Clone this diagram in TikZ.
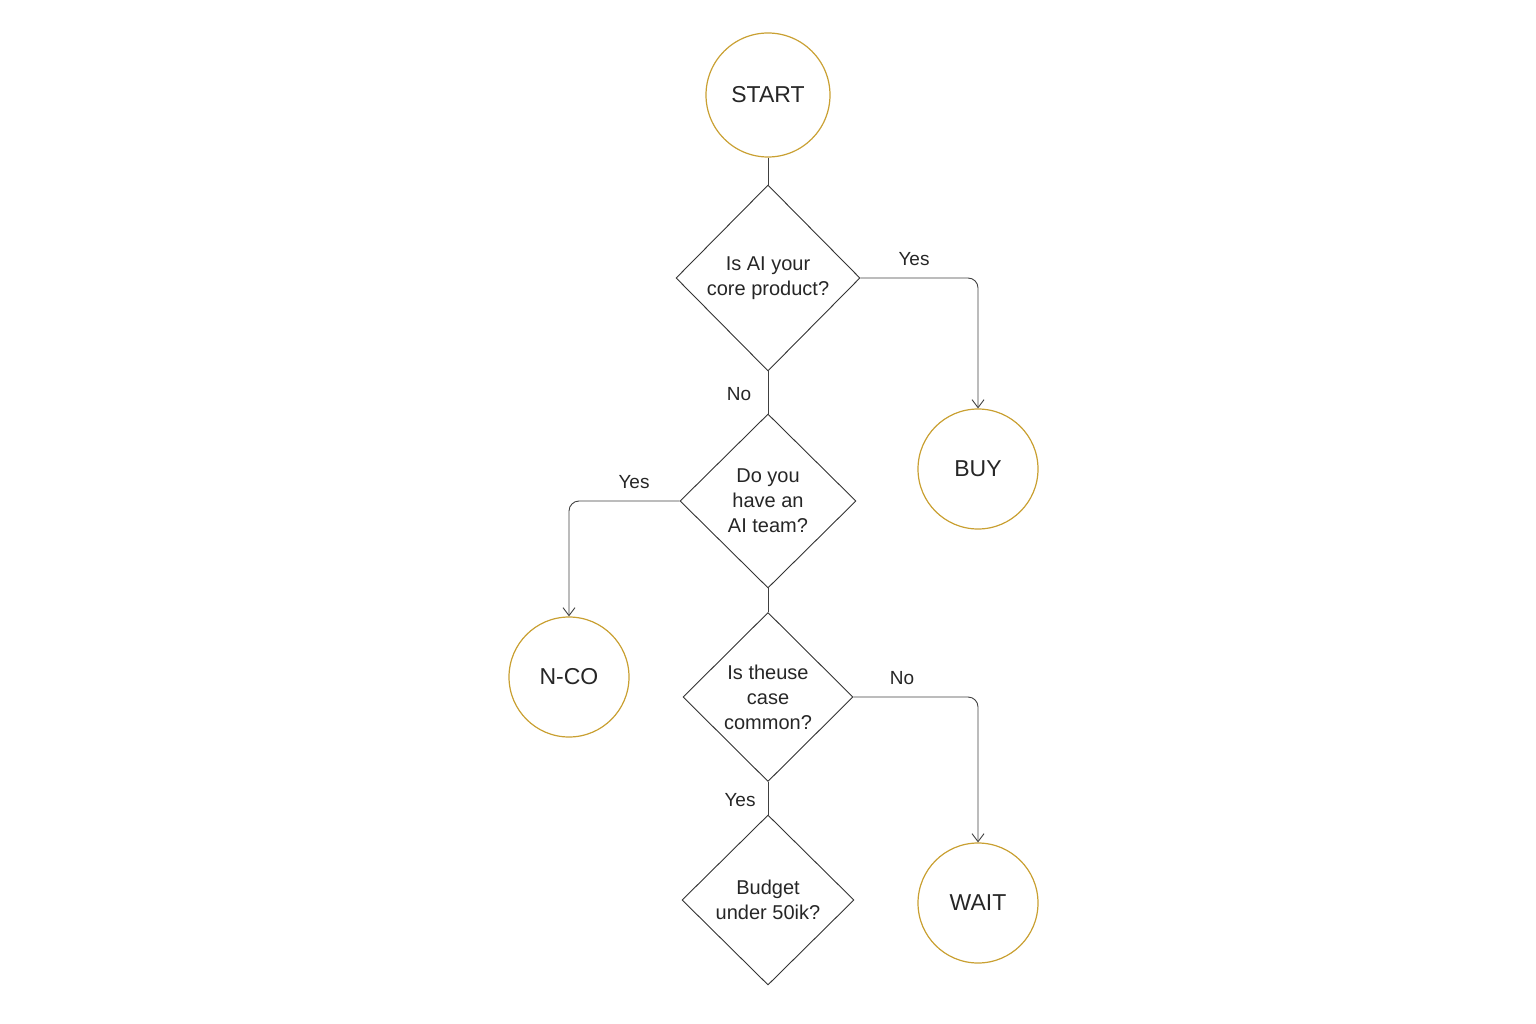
\documentclass[tikz,border=0pt]{standalone}
\usepackage{fontspec}
\setmainfont{Liberation Sans}
\usetikzlibrary{shapes.geometric,arrows.meta}
\definecolor{gold}{HTML}{C9A032}
\begin{document}
\begin{tikzpicture}[x=1pt,y=-1pt,
  term/.style={circle,draw=gold,line width=1.2pt,inner sep=0pt,font=\fontsize{23}{26}\selectfont,text=black!85},
  dec/.style={diamond,draw=black!80,line width=0.9pt,inner sep=0pt,align=center,font=\fontsize{20}{25}\selectfont,text=black!85},
  lbl/.style={font=\fontsize{19}{22}\selectfont,text=black!85},
  conn/.style={draw=black!75,line width=0.9pt,rounded corners=10pt},
  arr/.style={conn,-{Straight Barb[length=8pt,width=12pt]}}]
\useasboundingbox (0,0) rectangle (1536,1024);
\node[term,minimum size=124pt] (start) at (768,95) {START};
\node[dec,minimum width=184pt,minimum height=186pt] (d1) at (768,278) {Is AI your\\core product?};
\node[term,minimum size=120pt] (buy) at (978,469) {BUY};
\node[dec,minimum width=176pt,minimum height=174pt] (d2) at (768,501) {Do you\\have an\\AI team?};
\node[term,minimum size=120pt] (nco) at (569,677) {N-CO};
\node[dec,minimum width=170pt,minimum height=169pt] (d3) at (768,697) {Is theuse\\case\\common?};
\node[term,minimum size=120pt] (wait) at (978,903) {WAIT};
\node[dec,minimum width=172pt,minimum height=170pt] (d4) at (768,900) {Budget\\under 50ik?};
\draw[conn] (start.south) -- (d1.north);
\draw[arr] (d1.east) -| (buy.north);
\node[lbl] (l1) at (914,259) {Yes};
\draw[conn] (d1.south) -- (d2.north);
\node[lbl] (l2) at (739,394) {No};
\draw[arr] (d2.west) -| (nco.north);
\node[lbl] (l3) at (634,482) {Yes};
\draw[conn] (d2.south) -- (d3.north);
\draw[arr] (d3.east) -| (wait.north);
\node[lbl] (l4) at (902,678) {No};
\draw[conn] (d3.south) -- (d4.north);
\node[lbl] (l5) at (740,800) {Yes};
\end{tikzpicture}
\end{document}
